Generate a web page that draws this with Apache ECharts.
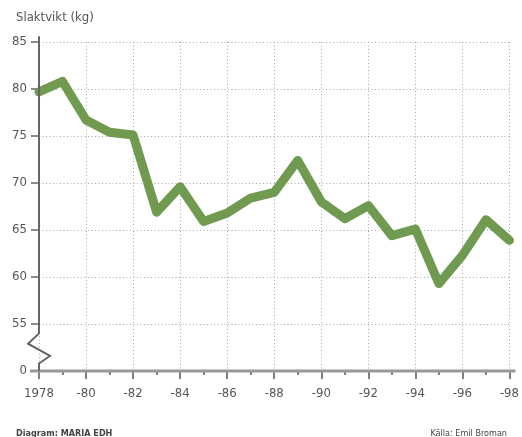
<!DOCTYPE html>
<html>
<head>
<meta charset="utf-8">
<script src="https://cdn.jsdelivr.net/npm/echarts@6/dist/echarts.min.js"></script>
<style>
  html, body { margin: 0; padding: 0; background: #fff; }
  #main { width: 522px; height: 437px; }
</style>
</head>
<body>
<div id="main"></div>
<script>
// slaktvikt per år
var years = [1978, 1979, 1980, 1981, 1982, 1983, 1984, 1985, 1986, 1987, 1988,
             1989, 1990, 1991, 1992, 1993, 1994, 1995, 1996, 1997, 1998];
var weights = [79.7, 80.8, 76.7, 75.4, 75.1, 66.9, 69.6, 65.9, 66.8, 68.4, 69.0,
               72.4, 68.0, 66.2, 67.6, 64.4, 65.1, 59.3, 62.3, 66.1, 63.9];
var yTicks = [50, 55, 60, 65, 70, 75, 80, 85];   // 50 visas som "0" (bruten axel)

var FONT = "'Liberation Sans Narrow', 'DejaVu Sans Condensed', 'Roboto', sans-serif";
var TXT = '#555';
var GRID = { type: [1, 2.5], color: '#a8a8a8', width: 1 };

var myChart = echarts.init(document.getElementById('main'));

var data = years.map(function (y, i) { return [y, weights[i]]; });

myChart.setOption({
  animation: false,
  grid: { left: 39, right: 8, top: 42, bottom: 66 },
  title: [
    { text: 'Slaktvikt (kg)', left: 11, top: 6,
      textStyle: { fontFamily: FONT, fontSize: 13, fontWeight: 'normal', color: TXT } },
    { text: 'Diagram: MARIA EDH', left: 11, top: 424,
      textStyle: { fontFamily: FONT, fontSize: 9, fontWeight: 'bold', color: '#444' } },
    { text: 'Källa: Emil Broman', right: 10, top: 424,
      textStyle: { fontFamily: FONT, fontSize: 9, fontWeight: 'normal', color: '#444' } }
  ],
  xAxis: {
    type: 'value', min: 1978, max: 1998, interval: 2,
    axisLine: { show: false },
    axisTick: { show: true, length: 8, lineStyle: { color: '#555', width: 1.5 } },
    minorTick: { show: true, splitNumber: 2, length: 4, lineStyle: { color: '#555', width: 1.5 } },
    axisLabel: {
      margin: 16, fontFamily: FONT, fontSize: 13, color: TXT,
      formatter: function (v) { return v === 1978 ? '1978' : '-' + String(v).slice(2); }
    },
    splitLine: { show: true, lineStyle: GRID }
  },
  yAxis: {
    type: 'value', min: 50, max: 85, interval: 5,
    axisLine: { show: false },
    axisTick: { show: true, length: 8, lineStyle: { color: '#666', width: 1.5 } },
    axisLabel: {
      margin: 12, fontFamily: FONT, fontSize: 13, color: TXT,
      formatter: function (v) { return v === yTicks[0] ? '0' : String(v); }
    },
    splitLine: { show: true, lineStyle: GRID }
  },
  series: [{
    type: 'line',
    data: data,
    symbol: 'none',
    lineStyle: { color: '#6f9a50', width: 9, join: 'round', cap: 'round' },
    z: 5
  }]
});

// axellinjer och zickzack för den brutna y-axeln
function px(x, y) { return myChart.convertToPixel({ gridIndex: 0 }, [x, y]); }
var x0 = px(1978, 50)[0];
var x1 = px(1998, 50)[0];
var yBase = px(1978, 50)[1];
var yAxisPts = [
  [x0, px(1978, 85.6)[1]],
  [x0, px(1978, 54.0)[1]],
  [x0 - 11, px(1978, 52.9)[1]],
  [x0 + 11, px(1978, 51.6)[1]],
  [x0, px(1978, 50.8)[1]],
  [x0, yBase]
];
myChart.setOption({
  graphic: [
    { type: 'polyline', z: 10, shape: { points: yAxisPts },
      style: { stroke: '#666', lineWidth: 2, fill: null } },
    { type: 'line', z: 9, shape: { x1: x0 - 9, y1: yBase, x2: x1 + 6, y2: yBase },
      style: { stroke: '#999', lineWidth: 3 } }
  ]
});

window.addEventListener('resize', function () { myChart.resize(); });
</script>
</body>
</html>
